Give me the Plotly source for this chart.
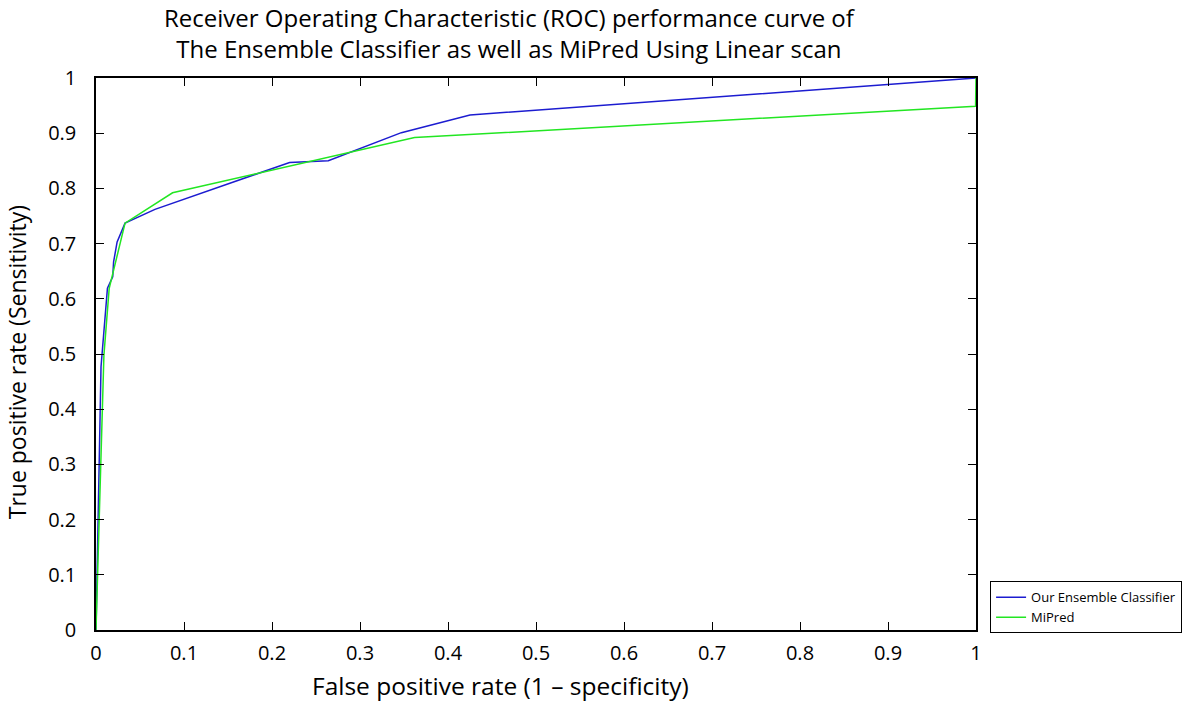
import plotly.graph_objects as go

# Our Ensemble Classifier ROC points
ens_fpr = [0.0, 0.0057, 0.013, 0.019, 0.020, 0.024, 0.033, 0.067, 0.220, 0.264, 0.347, 0.425, 1.0]
ens_tpr = [0.0, 0.477, 0.619, 0.640, 0.667, 0.703, 0.737, 0.762, 0.847, 0.850, 0.901, 0.933, 1.0]

# MiPred ROC points
mip_fpr = [0.0, 0.009, 0.015, 0.033, 0.087, 0.362, 0.9995, 1.0]
mip_tpr = [0.0, 0.498, 0.619, 0.737, 0.792, 0.892, 0.949, 1.0]

tick_vals = [0, 0.1, 0.2, 0.3, 0.4, 0.5, 0.6, 0.7, 0.8, 0.9, 1]
tick_text = ["0", "0.1", "0.2", "0.3", "0.4", "0.5", "0.6", "0.7", "0.8", "0.9", "1"]

FONT = "Open Sans, Liberation Sans, sans-serif"

fig = go.Figure()
fig.add_trace(go.Scatter(x=ens_fpr, y=ens_tpr, mode="lines", name="Our Ensemble Classifier",
                         line=dict(color="#1c1cd0", width=1.5)))
fig.add_trace(go.Scatter(x=mip_fpr, y=mip_tpr, mode="lines", name="MiPred",
                         line=dict(color="#22e622", width=1.5)))

axis_common = dict(
    range=[0, 1], tickvals=tick_vals, ticktext=tick_text,
    ticks="inside", ticklen=8, tickwidth=1.2, tickcolor="black",
    showline=True, linecolor="black", linewidth=1.5, mirror="ticks",
    showgrid=False, zeroline=False,
    tickfont=dict(family=FONT, size=20, color="black"),
)

fig.update_layout(
    width=1200, height=702,
    paper_bgcolor="white", plot_bgcolor="white",
    margin=dict(l=96, r=224, t=78, b=72, autoexpand=False),
    font=dict(family=FONT, color="black"),
    xaxis=dict(**axis_common, ticklabelstandoff=4),
    yaxis=dict(**axis_common, ticklabelstandoff=14),
    showlegend=True,
    legend=dict(x=1.016, y=-0.006, xanchor="left", yanchor="bottom",
                bordercolor="black", borderwidth=1, bgcolor="white",
                font=dict(family=FONT, size=13, color="black"),
                tracegroupgap=0, itemwidth=30),
)

# Chart title (two lines)
fig.add_annotation(
    text="Receiver Operating Characteristic (ROC) performance curve of<br>The Ensemble Classifier as well as MiPred Using Linear scan",
    xref="paper", yref="paper", x=0.47, y=1.0, xanchor="center", yanchor="bottom",
    yshift=11, showarrow=False, align="center",
    font=dict(family=FONT, size=24, color="black"),
)
# X axis title
fig.add_annotation(
    text="False positive rate (1 \u2013 specificity)",
    xref="paper", yref="paper", x=0.46, y=0, xanchor="center", yanchor="middle",
    yshift=-55, showarrow=False,
    font=dict(family=FONT, size=24.5, color="black"),
)
# Y axis title
fig.add_annotation(
    text="True positive rate (Sensitivity)",
    xref="paper", yref="paper", x=0, y=0.485, xanchor="center", yanchor="middle",
    xshift=-79, textangle=-90, showarrow=False,
    font=dict(family=FONT, size=23, color="black"),
)

fig.write_html("out.html", config={"displayModeBar": False},
               post_script="document.body.style.margin='0';")
